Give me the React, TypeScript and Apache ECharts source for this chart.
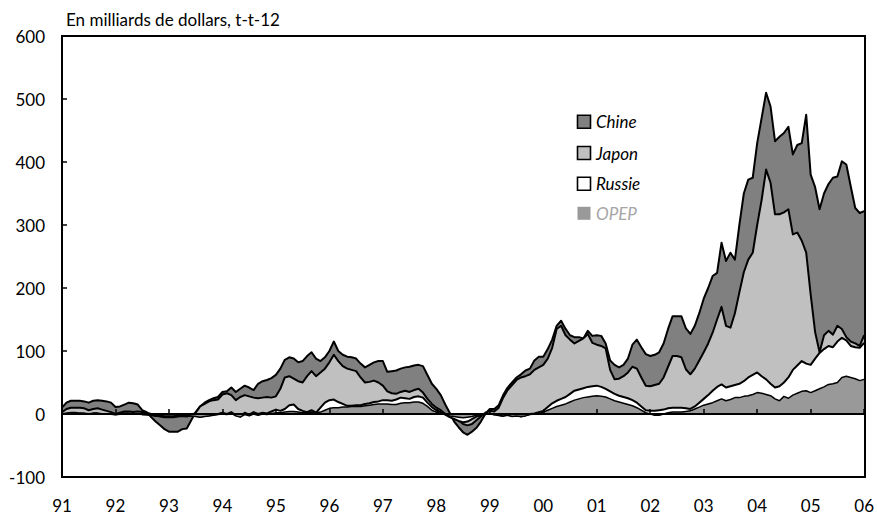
import React, { useEffect, useRef } from 'react';
import * as echarts from 'echarts';

const yearLabels = ['91', '92', '93', '94', '95', '96', '97', '98', '99', '00', '01', '02', '03', '04', '05', '06'];

// Monthly values, Jan 1991 .. Jan 2006 (cumulative layers, bn USD)
const chine = [
  10, 18, 21, 21, 21, 20, 18, 21, 22, 21, 20, 18,
  11, 12, 15, 18, 17, 15, 6, 3, -5, -12, -18, -24,
  -28, -28, -28, -24, -23, -10, 3, 12, 18, 22, 25, 27,
  35, 36, 42, 35, 40, 45, 42, 38, 48, 52, 54, 57,
  62, 72, 86, 90, 88, 82, 84, 92, 98, 88, 84, 90,
  100, 115, 100, 94, 91, 90, 88, 80, 74, 78, 82, 84,
  84, 67, 68, 69, 72, 74, 75, 77, 78, 76, 62, 48,
  40, 30, 15, 2, -12, -21, -29, -33, -28, -22, -12, 0,
  8, 8, 14, 30, 42, 50, 58, 63, 69, 72, 85, 91,
  91, 103, 118, 140, 148, 135, 125, 122, 122, 120, 132, 124,
  125, 124, 112, 85, 78, 74, 78, 88, 110, 118, 106, 95,
  92, 94, 98, 112, 135, 155, 155, 155, 136, 127, 140, 160,
  183, 200, 219, 224, 272, 243, 256, 245, 300, 350, 372, 375,
  430, 470, 510, 488, 433, 440, 446, 456, 412, 427, 430, 475,
  380, 360, 325, 350, 365, 375, 377, 401, 396, 361, 327, 319,
  322,
];
const japon = [
  3, 8, 10, 10, 10, 9, 6, 8, 9, 7, 5, 3,
  0, 2, 4, 4, 3, 4, 3, 2, 0, -2, -4, -5,
  -5, -5, -4, -3, -4, -2, 2, 12, 16, 20, 22, 23,
  31, 33, 30, 22, 27, 30, 28, 26, 25, 26, 27, 26,
  28, 40, 58, 60, 56, 52, 50, 60, 68, 60, 66, 72,
  82, 94, 84, 76, 72, 70, 68, 58, 50, 51, 53, 50,
  45, 36, 33, 32, 35, 37, 35, 38, 40, 34, 24, 16,
  10, 6, 0, -4, -7, -10, -16, -18, -16, -10, -4, 2,
  5, 4, 10, 26, 38, 46, 54, 58, 60, 63, 70, 74,
  78, 88, 105, 135, 140, 125, 118, 112, 116, 120, 127, 113,
  110, 108, 104, 70, 55, 56, 60, 66, 75, 72, 58, 45,
  44, 46, 48, 58, 75, 92, 92, 90, 71, 63, 72, 85,
  98, 112, 129, 150, 170, 140, 137, 160, 193, 225, 245, 256,
  300, 340, 388, 367, 317, 317, 320, 325, 285, 288, 275, 256,
  190, 130, 98, 125, 132, 126, 140, 135, 122, 115, 112, 108,
  125,
];
const russie = [
  0, 1, 2, 2, 1, 1, 0, 1, 1, 0, 0, 0,
  -1, 0, 1, 1, 0, 0, 0, -1, -2, -3, -3, -4,
  -4, -4, -3, -3, -3, -2, -3, -4, -3, -2, -1, 0,
  2, 0, 3, -2, -4, 2, -1, 3, 0, 2, 1, 4,
  7, 5, 8, 14, 15, 8, 5, 3, 6, 2, 10, 18,
  22, 23, 19, 16, 13, 13, 14, 14, 16, 17, 19, 20,
  22, 22, 21, 23, 26, 25, 24, 27, 28, 26, 18, 11,
  6, 3, -1, -5, -8, -11, -13, -12, -8, -4, -2, 0,
  1, -1, -2, -3, -1, -3, -2, -4, -2, 0, 1, 3,
  5, 11, 17, 21, 24, 27, 32, 37, 39, 41, 43, 44,
  45, 43, 40, 36, 32, 29, 27, 25, 22, 18, 12, 6,
  5, 5, 6, 7, 9, 10, 10, 10, 9, 8, 12, 18,
  24, 30, 37, 43, 47, 42, 44, 46, 48, 52, 58, 62,
  66, 60, 55, 48, 42, 44, 50, 58, 70, 77, 84, 80,
  78, 88, 97, 103, 108, 106, 115, 121, 117, 108, 106, 105,
  113,
];
const opep = [
  0, 1, 1, 1, 1, 0, 0, 1, 1, 0, 0, 0,
  -1, 0, 0, 0, 0, 0, -1, -1, -2, -2, -2, -3,
  -3, -3, -2, -2, -2, -3, -4, -5, -4, -3, -2, -1,
  0, -1, 1, -3, -5, -1, -3, 0, -2, 0, -1, 1,
  2, 2, 3, 4, 4, 3, 2, 2, 3, 2, 3, 6,
  9, 10, 10, 11, 11, 12, 12, 12, 13, 14, 15, 16,
  16, 16, 15, 15, 17, 18, 18, 19, 19, 17, 12, 6,
  3, 1, -1, -3, -4, -5, -6, -5, -4, -2, -1, 0,
  0, -1, -2, -3, -2, -4, -3, -4, -3, -1, 0, 1,
  3, 6, 9, 12, 14, 16, 19, 22, 24, 26, 27, 28,
  29, 28, 27, 24, 21, 19, 17, 15, 13, 10, 6, 2,
  0, -2, -2, 0, 2, 3, 3, 3, 4, 5, 8, 11,
  14, 16, 18, 21, 24, 21, 23, 26, 26, 28, 29, 31,
  34, 33, 31, 29, 24, 21, 28, 25, 30, 33, 36, 37,
  34, 37, 40, 43, 47, 48, 50, 58, 60, 58, 56, 53,
  55,
];

const seriesNames = ['Chine', 'Japon', 'Russie', 'OPEP'];
const seriesColors = ['#808080', '#c0c0c0', '#ffffff', '#999999'];

const FONT = 'Lato, "Open Sans", sans-serif';

export default function App() {
  const ref = useRef<HTMLDivElement>(null);
  useEffect(() => {
    if (!ref.current) return;
    const chart = echarts.init(ref.current, null, { renderer: 'svg' });
    const datasets = [chine, japon, russie, opep];
    const series = datasets.map((arr, k) => ({
      name: seriesNames[k],
      type: 'line',
      xAxisIndex: 0,
      data: arr.map((v, i) => [i, v]),
      symbol: 'none',
      showSymbol: false,
      silent: true,
      lineStyle: { color: '#000', width: k === 3 ? 1.5 : 2, join: 'round' },
      areaStyle: { color: seriesColors[k], opacity: 1 },
      itemStyle: { color: seriesColors[k] },
      emphasis: { disabled: true },
      z: 2 + k * 0.01,
    }));

    const legendGraphics: any[] = [];
    const legendY = [121.7, 153, 183.7, 213.3];
    seriesNames.forEach((n, k) => {
      legendGraphics.push({
        type: 'rect',
        shape: { x: 577.5, y: legendY[k] - 6.5, width: 13, height: 13 },
        style: {
          fill: seriesColors[k],
          stroke: k === 3 ? null : '#000',
          lineWidth: k === 3 ? 0 : 1.6,
        },
        z: 50,
      });
      legendGraphics.push({
        type: 'text',
        style: {
          text: n,
          x: 596,
          y: legendY[k],
          verticalAlign: 'middle',
          align: 'left',
          font: `italic 17px ${FONT}`,
          fill: k === 3 ? '#a6a6a6' : '#000',
        },
        z: 50,
      });
    });

    chart.setOption({
      animation: false,
      grid: { left: 62, right: 12, top: 36, bottom: 38 },
      xAxis: [
        {
          type: 'value',
          min: 0,
          max: 180,
          interval: 12,
          position: 'bottom',
          z: 10,
          axisLine: { onZero: false, show: true, lineStyle: { color: '#000', width: 2 } },
          axisTick: { show: false },
          splitLine: { show: false },
          axisLabel: {
            formatter: (v: number) => yearLabels[Math.round(v / 12)],
            color: '#000',
            fontSize: 17,
            fontFamily: FONT,
            margin: 20,
          },
        },
        {
          type: 'value',
          min: 0,
          max: 180,
          interval: 12,
          position: 'bottom',
          z: 10,
          axisLine: { onZero: true, show: true, lineStyle: { color: '#000', width: 2 } },
          axisTick: { show: true, inside: true, length: 5, lineStyle: { color: '#000', width: 1.5 } },
          axisLabel: { show: false },
          splitLine: { show: false },
        },
      ],
      yAxis: {
        type: 'value',
        min: -100,
        max: 600,
        interval: 100,
        z: 10,
        axisLine: { onZero: false, show: true, lineStyle: { color: '#000', width: 2 } },
        axisTick: { show: true, inside: true, length: 5, lineStyle: { color: '#000', width: 1.5 } },
        splitLine: { show: false },
        axisLabel: { color: '#000', fontSize: 17, fontFamily: FONT, margin: 17 },
      },
      series,
      graphic: [
        {
          type: 'rect',
          shape: { x: 62, y: 36, width: 803, height: 441 },
          style: { fill: 'transparent', stroke: '#000', lineWidth: 2 },
          z: 100,
          silent: true,
        },
        {
          type: 'text',
          style: {
            text: 'En milliards de dollars, t-t-12',
            x: 66,
            y: 19,
            verticalAlign: 'middle',
            align: 'left',
            font: `17px ${FONT}`,
            fill: '#000',
          },
          z: 50,
        },
        ...legendGraphics,
      ],
    });
    return () => chart.dispose();
  }, []);
  return <div ref={ref} style={{ width: 877, height: 515, position: 'absolute', left: 0, top: 0 }} />;
}
